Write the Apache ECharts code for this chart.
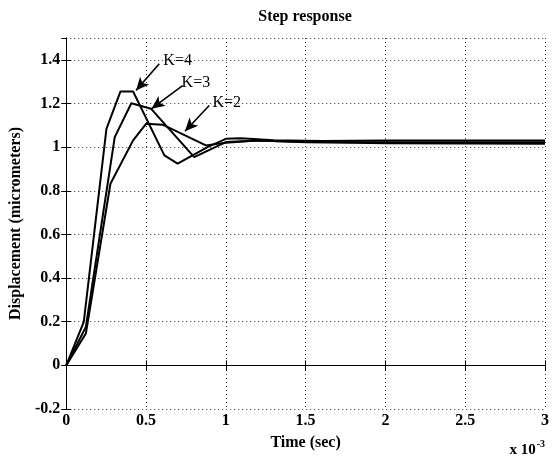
<!DOCTYPE html>
<html>
<head>
<meta charset="utf-8">
<script src="https://cdn.jsdelivr.net/npm/echarts@6/dist/echarts.min.js"></script>
<style>
  html, body { margin: 0; padding: 0; background: #fff; }
  #chart { width: 554px; height: 459px; }
</style>
</head>
<body>
<div id="chart"></div>
<script>
// Step response of the positioning stage for three gains (time in ms, displacement in micrometers)
const tK2 = [0, 0.123, 0.277, 0.419, 0.50, 0.604, 0.875, 1.0, 1.2, 1.5, 2.0, 3.0];
const yK2 = [0, 0.146, 0.832, 1.031, 1.107, 1.103, 1.008, 1.020, 1.030, 1.024, 1.018, 1.016];

const tK3 = [0, 0.123, 0.304, 0.408, 0.531, 0.802, 1.0, 1.2, 1.5, 2.0, 3.0];
const yK3 = [0, 0.176, 1.046, 1.201, 1.176, 0.954, 1.023, 1.030, 1.022, 1.022, 1.022];

const tK4 = [0, 0.110, 0.252, 0.340, 0.419, 0.615, 0.698, 0.885, 1.0, 1.094, 1.3, 1.6, 2.0, 3.0];
const yK4 = [0, 0.199, 1.084, 1.255, 1.255, 0.962, 0.924, 1.000, 1.038, 1.041, 1.032, 1.028, 1.030, 1.030];

const gainLabels = ['K=2', 'K=3', 'K=4'];
const xTicks = { min: 0, max: 3, step: 0.5 };
const yTicks = { min: -0.2, max: 1.5, step: 0.2 };

// annotation anchors (data coordinates): label position, arrow tail, arrow tip
const notes = {
  'K=2': { text: [1.006, 1.205], from: [0.896, 1.191], to: [0.744, 1.073] },
  'K=3': { text: [0.8125, 1.297], from: [0.729, 1.282], to: [0.535, 1.176] },
  'K=4': { text: [0.698, 1.397], from: [0.583, 1.382], to: [0.4375, 1.26] }
};

const serif = '"Liberation Serif", "DejaVu Serif", serif';
const pairs = (t, y) => t.map((v, i) => [v, y[i]]);

function gainSeries(name, t, y) {
  const n = notes[name];
  return {
    name: name,
    type: 'line',
    data: pairs(t, y),
    showSymbol: false,
    lineStyle: { color: '#000', width: 2 },
    z: 3,
    markLine: {
      silent: true,
      symbol: ['none', 'arrow'],
      symbolSize: [9, 13],
      lineStyle: { color: '#000', width: 1.6, type: 'solid' },
      label: { show: false },
      data: [[{ coord: n.from }, { coord: n.to }]]
    },
    markPoint: {
      silent: true,
      symbol: 'circle',
      symbolSize: 1,
      itemStyle: { color: 'rgba(0,0,0,0)' },
      label: {
        show: true, position: 'inside', formatter: name,
        color: '#000', fontFamily: serif, fontSize: 16
      },
      data: [{ coord: n.text }]
    }
  };
}

const chart = echarts.init(document.getElementById('chart'), null, { renderer: 'canvas' });

const tickLabel = { color: '#000', fontFamily: serif, fontWeight: 'bold', fontSize: 16 };
const nameStyle = { color: '#000', fontFamily: serif, fontWeight: 'bold', fontSize: 16 };
const boxLine = { show: true, lineStyle: { color: '#000', width: 1 } };
const innerTick = { show: true, inside: true, length: 5, lineStyle: { color: '#000' } };
const dotted = { show: true, lineStyle: { color: '#333', width: 1, type: [1, 3] } };

chart.setOption({
  animation: false,
  backgroundColor: '#fff',
  grid: { left: 65, right: 9, top: 38, bottom: 50, containLabel: false },
  xAxis: [
    {
      type: 'value', position: 'bottom',
      min: xTicks.min, max: xTicks.max, interval: xTicks.step,
      axisLine: boxLine, axisTick: innerTick, splitLine: dotted,
      axisLabel: Object.assign({ margin: 4 }, tickLabel),
      name: 'Time (sec)', nameLocation: 'middle', nameGap: 26,
      nameTextStyle: nameStyle
    },
    {
      type: 'value', position: 'top',
      min: xTicks.min, max: xTicks.max, interval: xTicks.step,
      axisLine: boxLine, axisTick: innerTick, splitLine: { show: false },
      axisLabel: { show: false }
    }
  ],
  yAxis: [
    {
      type: 'value', position: 'left',
      min: yTicks.min, max: yTicks.max, interval: yTicks.step,
      axisLine: boxLine, axisTick: innerTick, splitLine: dotted,
      axisLabel: Object.assign({ margin: 6, showMaxLabel: false }, tickLabel),
      name: 'Displacement (micrometers)', nameLocation: 'middle', nameGap: 37,
      nameTextStyle: nameStyle
    },
    {
      type: 'value', position: 'right',
      min: yTicks.min, max: yTicks.max, interval: yTicks.step,
      axisLine: boxLine, axisTick: innerTick, splitLine: { show: false },
      axisLabel: { show: false }
    }
  ],
  graphic: [
    {
      type: 'text', x: 305, y: 17,
      style: {
        text: 'Step response', textAlign: 'center', textVerticalAlign: 'middle',
        fill: '#000', font: 'bold 16px ' + serif
      }
    },
    {
      type: 'text', right: 9, top: 439,
      style: {
        text: '{b|x 10}{s|-3}',
        rich: {
          b: { fill: '#000', fontFamily: serif, fontWeight: 'bold', fontSize: 15, verticalAlign: 'bottom' },
          s: { fill: '#000', fontFamily: serif, fontWeight: 'bold', fontSize: 10, verticalAlign: 'top', padding: [0, 0, 9, 1] }
        }
      }
    }
  ],
  series: [
    gainSeries(gainLabels[0], tK2, yK2),
    gainSeries(gainLabels[1], tK3, yK3),
    gainSeries(gainLabels[2], tK4, yK4)
  ]
});
</script>
</body>
</html>
